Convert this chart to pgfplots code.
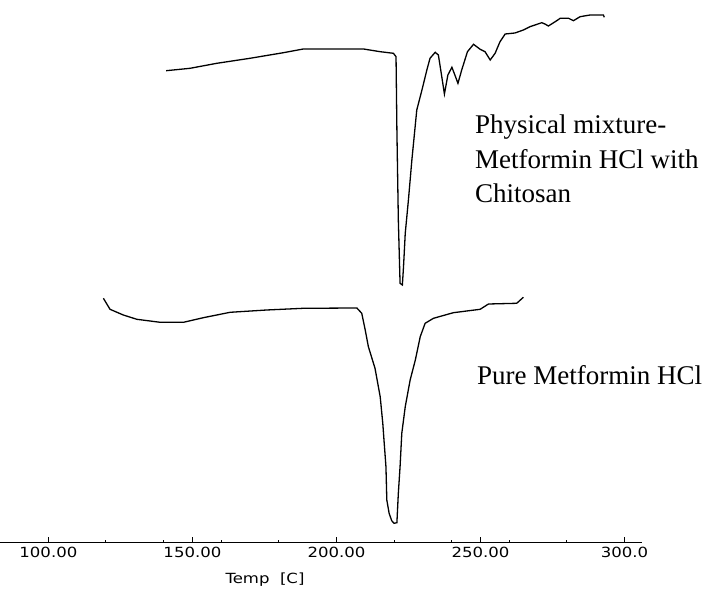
\documentclass[border=0pt]{standalone}
\usepackage{graphicx}
\usepackage{fontspec}
\setmainfont{Liberation Serif}
\newfontfamily\tickfont{DejaVu Sans}
\usepackage{pgfplots}
\pgfplotsset{compat=1.18}
\newcommand\tl[1]{\scalebox{1.18}[1]{\tickfont\fontsize{14}{14}\selectfont #1}}
\begin{document}
\begin{tikzpicture}
\path[use as bounding box] (0,0) rectangle (710pt,589pt);
\begin{axis}[
  at={(0pt,46.3pt)}, anchor=south west,
  scale only axis, width=642pt, height=542.7pt,
  xmin=83.2, xmax=306.1, ymin=46.3, ymax=589,
  axis x line*=bottom, axis y line=none,
  x axis line style={line width=1.1pt},
  xtick={100,150,200,250,300},
  xticklabels={\tl{100.00},\tl{150.00},\tl{200.00},\tl{250.00},\tl{300.0}},
  minor xtick={120,140,160,180,220,240,260,280},
  tick align=inside,
  major tick length=6pt, minor tick length=2.5pt,
  every tick/.style={black, line width=1pt},
  xticklabel style={anchor=north, inner sep=0pt, yshift=-4.3pt},
  ytick=\empty,
  clip=false,
]
% Pure Metformin HCl
\addplot[black, line width=1.3pt] coordinates {
(119.1,290.7) (121.4,279.7) (126.0,274) (130.7,269.7) (138.8,266.7) (146.9,266.7)
(153.8,271.3) (163.1,276.7) (175.8,279) (188.5,280.7) (207.1,281) (208.8,275.7)
(210.0,259) (211.1,242.3) (213.4,220.7) (215.2,192.3) (216.1,165.7) (216.6,145.7)
(217.2,122.3) (217.5,89) (218.3,75.7) (219.2,68.3) (220.0,65.7) (221.0,66.3)
(221.5,95.7) (222.1,122.3) (222.7,155.7) (223.9,182.3) (225.6,209) (227.4,229)
(229.1,252.3) (230.8,265.7) (233.7,270.7) (240.6,276.3) (249.9,279.7) (252.8,285)
(262.6,285.7) (264.9,291.7)
};
% Physical mixture
\addplot[black, line width=1.3pt] coordinates {
(140.9,518.3) (149.2,520.7) (158.5,525.7) (170.0,530.7) (181.6,536.3) (188.5,540)
(209.4,540) (215.2,537.3) (219.8,535.7) (220.7,532.3) (221.0,459) (221.5,369)
(222.1,305.7) (222.9,304) (223.3,322.3) (223.9,355.7) (225.0,389) (226.2,429)
(227.9,479) (229.7,499) (231.4,519) (232.5,530.7) (234.3,536.7) (235.4,534)
(236.4,515.7) (237.5,495) (238.7,514) (240.1,521.7) (240.9,515.7) (242.2,505.7)
(243.5,519) (245.5,537.3) (247.6,544.7) (249.9,539.7) (251.6,537.3) (253.4,529)
(255.1,535.7) (256.8,547.3) (258.6,555) (262.0,556) (264.9,559) (267.2,562.3)
(271.3,566.3) (272.4,565) (273.6,563) (276.5,568.3) (277.7,570.7) (280.6,570.7)
(282.3,568.3) (284.6,572.3) (288.1,574) (292.7,574) (293.0,571.7)
};
\end{axis}
\begin{scope}[every node/.style={inner sep=0pt, font=\fontsize{27}{32}\selectfont}]
\node[anchor=base west] at (475pt,455.7pt) {Physical mixture-};
\node[anchor=base west] at (475pt,420.7pt) {Metformin HCl with};
\node[anchor=base west] at (475pt,386pt) {Chitosan};
\node[anchor=base west] at (477pt,204pt) {Pure Metformin HCl};
\end{scope}
\node[anchor=north, inner sep=0pt] at (265pt,16pt) {\tl{Temp\ \ [C]}};
\end{tikzpicture}
\end{document}
